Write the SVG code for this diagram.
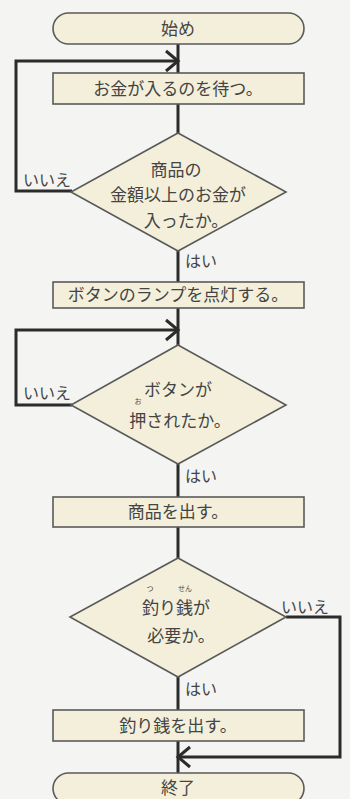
<svg xmlns="http://www.w3.org/2000/svg" width="350" height="799" viewBox="0 0 350 799">
<style>
.bg{fill:#f4f4f2}
.shape{fill:#f3efda;stroke:#5a5a5a;stroke-width:1.6}
.conn{fill:none;stroke:#2b2b2b;stroke-width:3;stroke-linejoin:miter}
.head{fill:none;stroke:#2b2b2b;stroke-width:3;stroke-linecap:butt}
text{font-family:"Noto Sans CJK JP","Noto Sans",sans-serif;fill:#444;text-anchor:middle}
.t{font-size:17px}
.lbl{font-size:16px;text-anchor:start}
.ruby{font-size:7px}
</style>
<rect class="bg" x="0" y="0" width="350" height="799"/>
<g id="connectors">
<line class="conn" x1="178" y1="44" x2="178" y2="773"/>
<polyline class="conn" points="72,191 16,191 16,61 177,61"/>
<path class="head" d="M166,51 L178,61 L166,71"/>
<polyline class="conn" points="72,405 16,405 16,330 177,330"/>
<path class="head" d="M166,320 L178,330 L166,340"/>
<polyline class="conn" points="286,617 340,617 340,757 179,757"/>
<path class="head" d="M190,747 L178,757 L190,767"/>
<text class="lbl" x="23" y="186">いいえ</text>
<text class="lbl" x="185" y="267">はい</text>
<text class="lbl" x="23" y="399">いいえ</text>
<text class="lbl" x="185" y="482">はい</text>
<text class="lbl" x="281" y="613">いいえ</text>
<text class="lbl" x="185" y="695">はい</text>
</g>
<g id="start">
<rect class="shape" x="53" y="13" width="251" height="31" rx="15.5"/>
<text class="t" x="178" y="35">始め</text>
</g>
<g id="wait">
<rect class="shape" x="53" y="73" width="251" height="31"/>
<text class="t" x="178" y="95">お金が入るのを待つ。</text>
</g>
<g id="check-money">
<polygon class="shape" points="178,133 286,192 178,251 71,192"/>
<text class="t" x="176" y="176">商品の</text>
<text class="t" x="178" y="201">金額以上のお金が</text>
<text class="t" x="186" y="227">入ったか。</text>
</g>
<g id="lamp">
<rect class="shape" x="53" y="282" width="251" height="26"/>
<text class="t" x="178" y="301">ボタンのランプを点灯する。</text>
</g>
<g id="check-button">
<polygon class="shape" points="178,345 286,405 178,464 71,405"/>
<text class="t" x="178" y="396">ボタンが</text>
<text class="t" x="180" y="427">押されたか。</text>
<text class="ruby" x="138" y="404">お</text>
</g>
<g id="dispense">
<rect class="shape" x="53" y="497" width="251" height="30"/>
<text class="t" x="178" y="518">商品を出す。</text>
</g>
<g id="check-change">
<polygon class="shape" points="178,558 286,617 178,677 70,617"/>
<text class="t" x="176" y="614">釣り銭が</text>
<text class="t" x="181" y="642">必要か。</text>
<text class="ruby" x="150" y="591">つ</text>
<text class="ruby" x="185" y="591">せん</text>
</g>
<g id="give-change">
<rect class="shape" x="53" y="710" width="251" height="31"/>
<text class="t" x="178" y="732">釣り銭を出す。</text>
</g>
<g id="end">
<rect class="shape" x="53" y="773" width="251" height="31" rx="15.5"/>
<text class="t" x="178" y="794">終了</text>
</g>
</svg>
